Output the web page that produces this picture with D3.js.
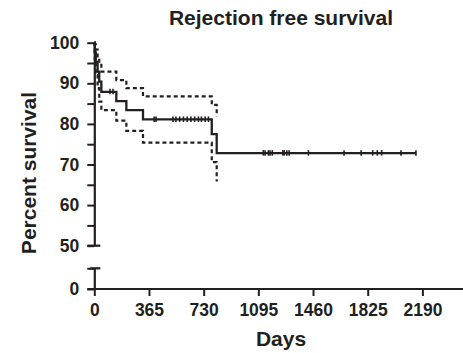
<!DOCTYPE html>
<html>
<head>
<meta charset="utf-8">
<script src="https://cdn.jsdelivr.net/npm/d3@7"></script>
<style>
  html, body { margin: 0; padding: 0; background: #fff; }
  svg { display: block; }
  text { font-family: "Liberation Sans", Arial, sans-serif; font-weight: bold; fill: #231f20; }
</style>
</head>
<body>
<svg id="chart" width="463" height="353"></svg>
<script>
// ---- data ----
const title = "Rejection free survival";
const xLabel = "Days";
const yLabel = "Percent survival";
const xTicks = [0, 365, 730, 1095, 1460, 1825, 2190];
const yTicksUpper = [50, 55, 60, 65, 70, 75, 80, 85, 90, 95, 100];
const yTickLabels = [50, 60, 70, 80, 90, 100];
const yTicksLower = [0, 5];

const eventDays = [0, 3, 10, 22, 33, 47, 147, 214, 325, 784, 817];
const survival  = [100, 97.6, 95.3, 92.9, 90.4, 87.9, 85.6, 83.4, 81.1, 77.5, 72.8];
const upperCI   = [100, 99.6, 98.3, 96.2, 94.9, 92.9, 90.8, 88.8, 86.8, 84.7, 81.8];
const lowerCI   = [100, 95.0, 92.0, 88.8, 85.5, 83.4, 80.8, 78.3, 75.4, 70.6, 65.8];
const lastFollowUp = 2147;
const censorDays = [105, 125, 400, 412, 525, 545, 570, 595, 620, 645, 670, 695, 715, 740, 762,
  1128, 1140, 1162, 1173, 1188, 1258, 1268, 1285, 1300, 1429, 1667, 1781, 1858, 1889, 1918, 2047, 2147];

// ---- layout ----
const svg = d3.select("#chart");
const ink = "#231f20";
const x = d3.scaleLinear().domain([0, 2461]).range([94.3, 463]);
const yU = d3.scaleLinear().domain([50, 100]).range([245.7, 42.7]);
const yL = d3.scaleLinear().domain([0, 5]).range([289, 268.3]);

function survAt(day) {
  let v = survival[0];
  for (let i = 0; i < eventDays.length; i++) if (eventDays[i] <= day) v = survival[i];
  return v;
}

// ---- axes ----
const yAxisU = d3.axisLeft(yU).tickValues(yTicksUpper).tickSize(7).tickSizeOuter(0)
  .tickFormat(d => yTickLabels.includes(d) ? d : "");
const gU = svg.append("g").attr("transform", `translate(${x(0)},0)`).call(yAxisU);
const yAxisL = d3.axisLeft(yL).tickValues(yTicksLower).tickSize(7).tickSizeOuter(0)
  .tickFormat(d => d === 0 ? "0" : "");
const gL = svg.append("g").attr("transform", `translate(${x(0)},0)`).call(yAxisL);
const xAxis = d3.axisBottom(x).tickValues(xTicks).tickSize(7).tickSizeOuter(0).tickFormat(d3.format("d"));
const gX = svg.append("g").attr("transform", `translate(0,${yL(0)})`).call(xAxis);

[gU, gL, gX].forEach(g => {
  g.selectAll("path.domain").attr("stroke", ink).attr("stroke-width", 2.2);
  g.selectAll(".tick line").attr("stroke", ink).attr("stroke-width", 2);
  g.selectAll(".tick text").attr("font-size", 17.5).attr("font-family", "Liberation Sans, Arial, sans-serif")
    .attr("font-weight", "bold").attr("fill", ink);
});
gU.selectAll(".tick text").attr("x", -15);
gL.selectAll(".tick text").attr("x", -15);
gX.selectAll(".tick text").attr("y", 15);
gX.select("path.domain").attr("d", `M${x(0) - 7},0H463`);

// break caps
svg.append("line").attr("x1", x(0) - 7).attr("x2", x(0) + 6).attr("y1", yU(50)).attr("y2", yU(50))
  .attr("stroke", ink).attr("stroke-width", 2.2);
svg.append("line").attr("x1", x(0) - 4).attr("x2", x(0) + 6).attr("y1", yL(5)).attr("y2", yL(5))
  .attr("stroke", ink).attr("stroke-width", 2.2);

// ---- curves ----
const line = d3.line().x(d => x(d[0])).y(d => yU(d[1])).curve(d3.curveStepAfter);
const survPts = eventDays.map((d, i) => [d, survival[i]]).concat([[lastFollowUp, survival[survival.length - 1]]]);
const upPts = eventDays.map((d, i) => [d, upperCI[i]]);
const loPts = eventDays.map((d, i) => [d, lowerCI[i]]);

svg.append("path").attr("d", line(upPts)).attr("fill", "none").attr("stroke", ink)
  .attr("stroke-width", 2.2).attr("stroke-dasharray", "4,3");
svg.append("path").attr("d", line(loPts)).attr("fill", "none").attr("stroke", ink)
  .attr("stroke-width", 2.2).attr("stroke-dasharray", "4,3");
svg.append("path").attr("d", line(survPts)).attr("fill", "none").attr("stroke", ink)
  .attr("stroke-width", 2.3);

svg.selectAll("line.censor").data(censorDays).enter().append("line")
  .attr("class", "censor")
  .attr("x1", d => x(d)).attr("x2", d => x(d))
  .attr("y1", d => yU(survAt(d)) - 3).attr("y2", d => yU(survAt(d)) + 2.5)
  .attr("stroke", ink).attr("stroke-width", 1.6);

// ---- titles ----
svg.append("text").attr("x", 281).attr("y", 25).attr("text-anchor", "middle")
  .attr("font-size", 21).text(title);
svg.append("text").attr("x", 281).attr("y", 346).attr("text-anchor", "middle")
  .attr("font-size", 21).text(xLabel);
svg.append("text").attr("transform", "translate(36,173) rotate(-90)").attr("text-anchor", "middle")
  .attr("font-size", 21).text(yLabel);
</script>
</body>
</html>
